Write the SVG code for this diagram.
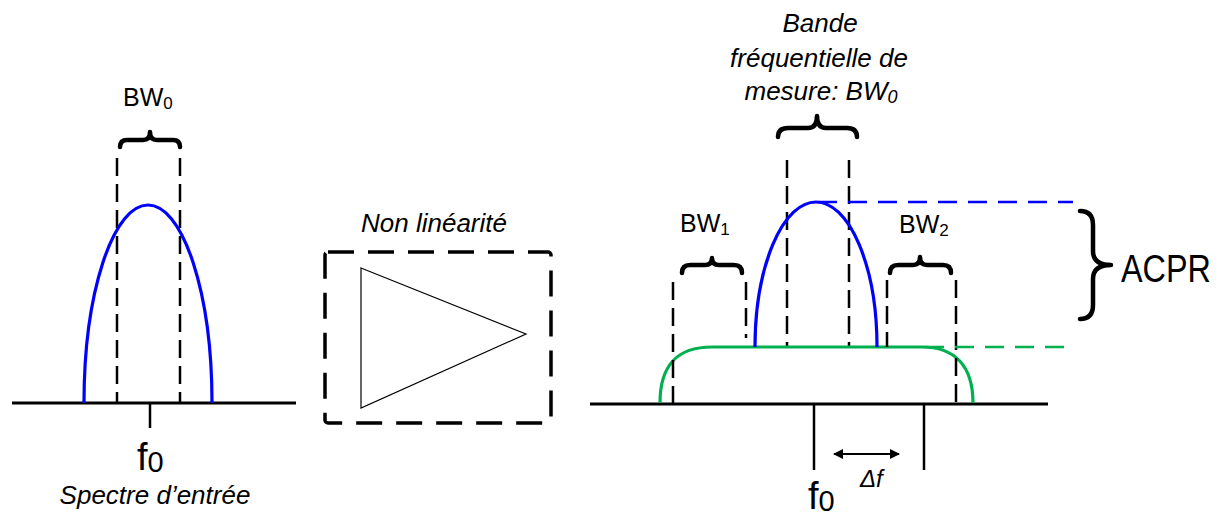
<svg xmlns="http://www.w3.org/2000/svg" width="1223" height="517" viewBox="0 0 1223 517">
<style>
text{font-family:"Liberation Sans",Arial,sans-serif;fill:#000}
.it{font-style:italic}
.axis{stroke:#000;stroke-width:3;fill:none}
.tick{stroke:#000;stroke-width:2.5;fill:none}
.vd{stroke:#000;stroke-width:2.5;stroke-dasharray:18 8;fill:none}
.brace{stroke:#000;stroke-width:4.5;fill:none;stroke-linecap:round;stroke-linejoin:round}
.blue{stroke:#0000ff;stroke-width:3.2;fill:none}
.green{stroke:#00b050;stroke-width:3.2;fill:none}
.hd{stroke-width:2.5;stroke-dasharray:19 11;fill:none}
</style>
<defs>
<marker id="ah" viewBox="0 0 10 10" refX="9" refY="5" markerWidth="5" markerHeight="5" orient="auto-start-reverse" markerUnits="strokeWidth">
<path d="M0,0 L10,5 L0,10 Z" fill="#000"/>
</marker>
</defs>

<g id="input-spectrum">
<line class="axis" x1="12" y1="403" x2="296" y2="403"/>
<line class="tick" x1="150" y1="403" x2="150" y2="428"/>
<line class="vd" x1="117" y1="158" x2="117" y2="403"/>
<line class="vd" x1="180" y1="158" x2="180" y2="403"/>
<path class="blue" d="M84,403 A64,198 0 0 1 212,403"/>
<path class="brace" d="M120,147 Q120,140 127,140 L143,140 Q150,140 150,132 Q150,140 157,140 L173,140 Q180,140 180,147"/>
<text x="123" y="106" font-size="25">BW<tspan font-size="17" dy="3">0</tspan></text>
<text x="137" y="470" font-size="38">f<tspan font-size="29" dy="2">0</tspan></text>
<text class="it" x="155" y="504" font-size="26" text-anchor="middle">Spectre d’entrée</text>
</g>

<g id="nonlinearity">
<text class="it" x="434" y="232" font-size="26" text-anchor="middle">Non linéarité</text>
<rect x="325" y="252" width="226" height="171" rx="3" fill="none" stroke="#000" stroke-width="3.5" stroke-dasharray="26 14"/>
<path d="M361,268 L526,334 L361,408 Z" fill="#fff" stroke="#000" stroke-width="1.2"/>
</g>

<g id="output-spectrum">
<line class="axis" x1="590" y1="404" x2="1048" y2="404"/>
<line class="tick" x1="814" y1="404" x2="814" y2="470"/>
<line class="tick" x1="924" y1="404" x2="924" y2="470"/>
<line class="vd" x1="787" y1="160" x2="787" y2="346"/>
<line class="vd" x1="849" y1="160" x2="849" y2="346"/>
<path class="green" d="M660,403 C660,362 680,347 712,347 L922,347 C954,347 973,365 973,403"/>
<path class="blue" d="M755,347 A61,145 0 0 1 877,347"/>
<line class="vd" x1="673" y1="282" x2="673" y2="403"/>
<line class="vd" x1="746" y1="282" x2="746" y2="338"/>
<line class="vd" x1="887" y1="280" x2="887" y2="347"/>
<line class="vd" x1="956" y1="280" x2="956" y2="403"/>
<path class="brace" stroke-width="5.5" d="M778,137 Q778,128 788,128 L808,128 Q817,128 817,116 Q817,128 826,128 L847,128 Q857,128 857,137"/>
<path class="brace" d="M682,273 Q682,265 690,265 L705,265 Q712,265 712,258 Q712,265 719,265 L734,265 Q742,265 742,273"/>
<path class="brace" d="M890,273 Q890,265 898,265 L913,265 Q920,265 920,257 Q920,265 927,265 L943,265 Q951,265 951,273"/>
<text class="it" x="820" y="32" font-size="26" text-anchor="middle">Bande</text>
<text class="it" x="819" y="67" font-size="26" text-anchor="middle">fréquentielle de</text>
<text class="it" x="821" y="100" font-size="26" text-anchor="middle">mesure: BW<tspan font-size="18" dy="3">0</tspan></text>
<text x="680" y="232" font-size="25">BW<tspan font-size="17" dy="3">1</tspan></text>
<text x="899" y="233" font-size="25">BW<tspan font-size="17" dy="3">2</tspan></text>
<text x="808" y="509" font-size="38">f<tspan font-size="29" dy="2">0</tspan></text>
<text class="it" x="860" y="487" font-size="24">Δf</text>
</g>

<g id="acpr">
<path class="brace" stroke-width="7" d="M1080,211 Q1093,211 1093,225 L1093,251 Q1093,265 1111,265 Q1093,265 1093,279 L1093,305 Q1093,319 1080,319"/>
<text transform="translate(1121,282) scale(0.83,1)" font-size="39">ACPR</text>
</g>

<g id="connectors">
<path class="hd" stroke="#0000ff" d="M818,202 H1073"/>
<path class="hd" stroke="#00b050" d="M925,347 H1073"/>
<line x1="834" y1="454" x2="899" y2="454" stroke="#000" stroke-width="2" marker-start="url(#ah)" marker-end="url(#ah)"/>
</g>
</svg>
